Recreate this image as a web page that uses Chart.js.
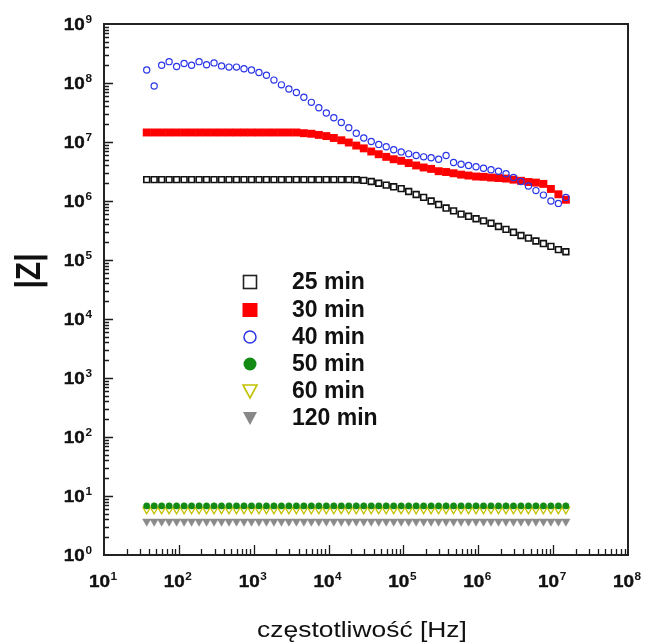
<!DOCTYPE html>
<html>
<head>
<meta charset="utf-8">
<script src="https://cdn.jsdelivr.net/npm/chart.js@4/dist/chart.umd.min.js"></script>
<style>
  html, body { margin: 0; padding: 0; background: #ffffff; }
  canvas { display: block; }
</style>
</head>
<body>
<canvas id="bode" width="648" height="644"></canvas>
<script>
// Measurement frequencies [Hz]
const freqHz = [37.2, 46.8, 58.9, 74.1, 93.3, 117.5, 147.9, 186.2, 234.4, 295.1, 371.5, 467.7, 588.8, 741.3, 933.3,
  1175, 1479, 1862, 2344, 2951, 3715, 4677, 5888, 7413, 9333,
  11750, 14790, 18620, 23440, 29510, 37150, 46770, 58880, 74130, 93330,
  117500, 147900, 186200, 234400, 295100, 371500, 467700, 588800, 741300, 933300,
  1175000, 1479000, 1862000, 2344000, 2951000, 3715000, 4677000, 5888000, 7413000, 9333000,
  11750000, 14790000];

// |Z| for each soaking time
const z25min = [2.3e6, 2.3e6, 2.3e6, 2.3e6, 2.3e6, 2.3e6, 2.3e6, 2.3e6, 2.3e6, 2.3e6,
  2.3e6, 2.3e6, 2.3e6, 2.3e6, 2.3e6, 2.3e6, 2.3e6, 2.3e6, 2.3e6, 2.3e6,
  2.3e6, 2.3e6, 2.3e6, 2.3e6, 2.3e6, 2.3e6, 2.3e6, 2.3e6,
  2.29e6, 2.24e6, 2.14e6, 2.0e6, 1.86e6, 1.74e6, 1.62e6, 1.45e6, 1.29e6, 1.15e6,
  1.0e6, 8.7e5, 7.6e5, 6.8e5, 6.0e5, 5.5e5, 5.0e5, 4.6e5, 4.2e5, 3.7e5,
  3.3e5, 2.95e5, 2.6e5, 2.35e5, 2.1e5, 1.9e5, 1.7e5, 1.5e5, 1.38e5];

const z30min = [1.45e7, 1.45e7, 1.45e7, 1.45e7, 1.45e7, 1.45e7, 1.45e7, 1.45e7, 1.45e7, 1.45e7,
  1.45e7, 1.45e7, 1.45e7, 1.45e7, 1.45e7, 1.45e7, 1.45e7, 1.45e7, 1.45e7, 1.45e7,
  1.45e7, 1.41e7, 1.38e7, 1.32e7, 1.26e7, 1.17e7, 1.07e7, 9.8e6, 8.7e6, 7.8e6,
  6.9e6, 6.2e6, 5.6e6, 5.1e6, 4.8e6, 4.4e6, 4.0e6, 3.7e6, 3.5e6, 3.2e6,
  3.1e6, 2.95e6, 2.8e6, 2.7e6, 2.6e6, 2.57e6, 2.5e6, 2.45e6, 2.4e6, 2.3e6,
  2.2e6, 2.1e6, 2.05e6, 1.95e6, 1.6e6, 1.3e6, 1.05e6];

const z40min = [1.66e8, 8.9e7, 2.0e8, 2.3e8, 1.9e8, 2.14e8, 2.0e8, 2.3e8, 2.04e8, 2.19e8,
  1.95e8, 1.86e8, 1.86e8, 1.74e8, 1.66e8, 1.51e8, 1.35e8, 1.12e8, 9.3e7, 7.9e7,
  6.9e7, 5.75e7, 4.7e7, 3.8e7, 3.1e7, 2.57e7, 2.14e7, 1.74e7, 1.41e7, 1.17e7,
  1.02e7, 9.1e6, 8.3e6, 7.4e6, 6.8e6, 6.3e6, 5.9e6, 5.6e6, 5.4e6, 5.1e6,
  5.9e6, 4.5e6, 4.2e6, 4.0e6, 3.8e6, 3.6e6, 3.4e6, 3.2e6, 2.9e6, 2.5e6,
  2.14e6, 1.8e6, 1.5e6, 1.26e6, 1.0e6, 9.1e5, 1.15e6];

const z50min = [6.8, 6.8, 6.8, 6.8, 6.8, 6.8, 6.8, 6.8, 6.8, 6.8,
  6.8, 6.8, 6.8, 6.8, 6.8, 6.8, 6.8, 6.8, 6.8, 6.8,
  6.8, 6.8, 6.8, 6.8, 6.8, 6.8, 6.8, 6.8, 6.8, 6.8,
  6.8, 6.8, 6.8, 6.8, 6.8, 6.8, 6.8, 6.8, 6.8, 6.8,
  6.8, 6.8, 6.8, 6.8, 6.8, 6.8, 6.8, 6.8, 6.8, 6.8,
  6.8, 6.8, 6.8, 6.8, 6.8, 6.8, 6.8];

const z60min = [5.9, 5.9, 5.9, 5.9, 5.9, 5.9, 5.9, 5.9, 5.9, 5.9,
  5.9, 5.9, 5.9, 5.9, 5.9, 5.9, 5.9, 5.9, 5.9, 5.9,
  5.9, 5.9, 5.9, 5.9, 5.9, 5.9, 5.9, 5.9, 5.9, 5.9,
  5.9, 5.9, 5.9, 5.9, 5.9, 5.9, 5.9, 5.9, 5.9, 5.9,
  5.9, 5.9, 5.9, 5.9, 5.9, 5.9, 5.9, 5.9, 5.9, 5.9,
  5.9, 5.9, 5.9, 5.9, 5.9, 5.9, 5.9];

const z120min = [3.7, 3.7, 3.7, 3.7, 3.7, 3.7, 3.7, 3.7, 3.7, 3.7,
  3.7, 3.7, 3.7, 3.7, 3.7, 3.7, 3.7, 3.7, 3.7, 3.7,
  3.7, 3.7, 3.7, 3.7, 3.7, 3.7, 3.7, 3.7, 3.7, 3.7,
  3.7, 3.7, 3.7, 3.7, 3.7, 3.7, 3.7, 3.7, 3.7, 3.7,
  3.7, 3.7, 3.7, 3.7, 3.7, 3.7, 3.7, 3.7, 3.7, 3.7,
  3.7, 3.7, 3.7, 3.7, 3.7, 3.7, 3.7];

const seriesLabels = ['25 min', '30 min', '40 min', '50 min', '60 min', '120 min'];

// Decade exponents used for the axis tick labels
const xTickExponents = [1, 2, 3, 4, 5, 6, 7, 8];
const yTickExponents = [0, 1, 2, 3, 4, 5, 6, 7, 8, 9];

const xTitle = 'częstotliwość [Hz]';
const yTitle = '|Z|';

const toPoints = (vals) => freqHz.map((f, i) => ({ x: f, y: vals[i] }));

const LABEL_STRETCH = 1.18;

function drawPower(ctx, exp, x, baseline, align) {
  ctx.save();
  const bigFont = 'bold 16px "Liberation Sans", Arial, sans-serif';
  const supFont = 'bold 10px "Liberation Sans", Arial, sans-serif';
  ctx.font = bigFont;
  const wBase = ctx.measureText('10').width;
  ctx.font = supFont;
  const wSup = ctx.measureText(String(exp)).width;
  const total = (wBase + wSup + 0.5) * LABEL_STRETCH;
  let left = x;
  if (align === 'center') left = x - total / 2 - 1;
  if (align === 'right') left = x - total;
  ctx.translate(left, baseline);
  ctx.scale(LABEL_STRETCH, 1);
  ctx.fillStyle = '#111';
  ctx.strokeStyle = '#111';
  ctx.lineWidth = 0.4;
  ctx.textAlign = 'left';
  ctx.textBaseline = 'alphabetic';
  ctx.font = bigFont;
  ctx.fillText('10', 0, 0);
  ctx.strokeText('10', 0, 0);
  ctx.font = supFont;
  ctx.fillText(String(exp), wBase + 0.5, -7);
  ctx.restore();
}

function legendMarker(ctx, kind, cx, cy) {
  ctx.save();
  ctx.beginPath();
  if (kind === 'openSquare') {
    ctx.lineWidth = 1.6; ctx.strokeStyle = '#222';
    ctx.strokeRect(cx - 6.5, cy - 6.5, 13, 13);
  } else if (kind === 'fillSquare') {
    ctx.fillStyle = '#ff0000';
    ctx.fillRect(cx - 7.5, cy - 7, 15, 14);
  } else if (kind === 'openCircle') {
    ctx.lineWidth = 1.5; ctx.strokeStyle = '#2a35e8';
    ctx.arc(cx, cy, 6, 0, Math.PI * 2); ctx.stroke();
  } else if (kind === 'fillCircle') {
    ctx.fillStyle = '#138a13';
    ctx.arc(cx, cy, 6.5, 0, Math.PI * 2); ctx.fill();
  } else if (kind === 'openTriDown') {
    ctx.lineWidth = 1.6; ctx.strokeStyle = '#c2c200';
    ctx.moveTo(cx - 7, cy - 6); ctx.lineTo(cx + 7, cy - 6); ctx.lineTo(cx, cy + 7); ctx.closePath(); ctx.stroke();
  } else if (kind === 'fillTriDown') {
    ctx.fillStyle = '#888888';
    ctx.moveTo(cx - 7, cy - 6); ctx.lineTo(cx + 7, cy - 6); ctx.lineTo(cx, cy + 7); ctx.closePath(); ctx.fill();
  }
  ctx.restore();
}

const legendKinds = ['openSquare', 'fillSquare', 'openCircle', 'fillCircle', 'openTriDown', 'fillTriDown'];

// Frame, inward log ticks, tick labels, axis titles and the in-plot legend
const axesDecor = {
  id: 'axesDecor',
  afterDatasetsDraw(chart) {
    const { ctx, chartArea: a, scales } = chart;
    const sx = scales.x, sy = scales.y;
    ctx.save();

    // ticks on the bottom axis (pointing up)
    ctx.strokeStyle = '#1a1a1a';
    ctx.lineWidth = 1.3;
    ctx.beginPath();
    for (let e = 1; e < 8; e++) {
      for (let m = 1; m <= 9; m++) {
        const v = m * Math.pow(10, e);
        if (m === 1 && e === 1) continue;
        const px = Math.round(sx.getPixelForValue(v)) + 0.5;
        const len = m === 1 ? 10 : 6;
        ctx.moveTo(px, a.bottom);
        ctx.lineTo(px, a.bottom - len);
      }
    }
    // ticks on the left axis (pointing right)
    for (let e = 0; e < 9; e++) {
      for (let m = 1; m <= 9; m++) {
        const v = m * Math.pow(10, e);
        if (m === 1 && e === 0) continue;
        const py = Math.round(sy.getPixelForValue(v)) + 0.5;
        const len = m === 1 ? 9 : 5;
        ctx.moveTo(a.left, py);
        ctx.lineTo(a.left + len, py);
      }
    }
    ctx.stroke();

    // plot frame
    ctx.lineWidth = 2;
    ctx.strokeStyle = '#222';
    ctx.strokeRect(a.left, a.top, a.right - a.left, a.bottom - a.top);

    // tick labels
    xTickExponents.forEach((exp) => {
      const px = sx.getPixelForValue(Math.pow(10, exp));
      drawPower(ctx, exp, px, a.bottom + 32, 'center');
    });
    yTickExponents.forEach((exp) => {
      const py = sy.getPixelForValue(Math.pow(10, exp));
      drawPower(ctx, exp, a.left - 12, py + 6, 'right');
    });

    // x axis title
    ctx.save();
    ctx.font = '22px "Liberation Sans", Arial, sans-serif';
    ctx.fillStyle = '#111';
    ctx.textAlign = 'center';
    ctx.textBaseline = 'alphabetic';
    ctx.translate(362, 637);
    ctx.scale(1.2, 1);
    ctx.fillText(xTitle, 0, 0);
    ctx.restore();

    // y axis title
    ctx.save();
    ctx.font = 'bold 30px "Liberation Sans", Arial, sans-serif';
    ctx.fillStyle = '#111';
    ctx.textAlign = 'center';
    ctx.textBaseline = 'alphabetic';
    ctx.translate(40, 271);
    ctx.scale(1.15, 1);
    ctx.rotate(-Math.PI / 2);
    ctx.fillText(yTitle, 0, 0);
    ctx.restore();

    // legend
    const rowY = [282, 310, 337, 364, 391, 418];
    seriesLabels.forEach((label, i) => {
      legendMarker(ctx, legendKinds[i], 250, rowY[i]);
      ctx.font = 'bold 23px "Liberation Sans", Arial, sans-serif';
      ctx.fillStyle = '#111';
      ctx.textAlign = 'left';
      ctx.textBaseline = 'middle';
      ctx.fillText(label, 292, rowY[i] + 1);
    });

    ctx.restore();
  }
};

new Chart(document.getElementById('bode'), {
  type: 'scatter',
  data: {
    datasets: [
      { label: seriesLabels[0], data: toPoints(z25min), pointStyle: 'rect', pointRadius: 4.1,
        backgroundColor: 'rgba(255,255,255,0)', borderColor: '#111111', pointBorderWidth: 1.6, order: 2 },
      { label: seriesLabels[1], data: toPoints(z30min), pointStyle: 'rect', pointRadius: 5.6,
        backgroundColor: '#ff0000', borderColor: '#ff0000', pointBorderWidth: 0, order: 3 },
      { label: seriesLabels[2], data: toPoints(z40min), pointStyle: 'circle', pointRadius: 3.1,
        backgroundColor: 'rgba(255,255,255,0)', borderColor: '#2a35e8', pointBorderWidth: 1.2, order: 1 },
      { label: seriesLabels[3], data: toPoints(z50min), pointStyle: 'circle', pointRadius: 3.2,
        backgroundColor: '#138a13', borderColor: '#138a13', pointBorderWidth: 0.5, order: 4 },
      { label: seriesLabels[4], data: toPoints(z60min), pointStyle: 'triangle', pointRotation: 180, pointRadius: 4.3,
        backgroundColor: 'rgba(255,255,255,0)', borderColor: '#c2c200', pointBorderWidth: 1.3, order: 5 },
      { label: seriesLabels[5], data: toPoints(z120min), pointStyle: 'triangle', pointRotation: 180, pointRadius: 4.8,
        backgroundColor: '#8a8a8a', borderColor: '#8a8a8a', pointBorderWidth: 0.5, order: 6 }
    ]
  },
  options: {
    responsive: false,
    animation: false,
    devicePixelRatio: 1,
    layout: { padding: { left: 104, right: 20, top: 24, bottom: 89 } },
    plugins: { legend: { display: false }, tooltip: { enabled: false } },
    scales: {
      x: { type: 'logarithmic', min: 10, max: 1e8, display: false },
      y: { type: 'logarithmic', min: 1, max: 1e9, display: false }
    }
  },
  plugins: [axesDecor]
});
</script>
</body>
</html>
